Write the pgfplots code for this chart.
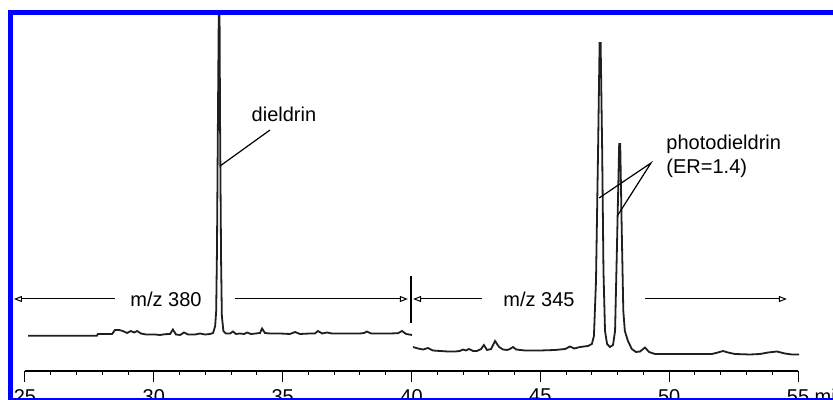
\documentclass[border=0pt]{standalone}
\usepackage{pgfplots}
\pgfplotsset{compat=1.18}
\usepackage{fontspec}
\setmainfont{Liberation Sans}
\usetikzlibrary{arrows.meta}
\begin{document}
\begin{tikzpicture}
\path[use as bounding box] (0,0) rectangle (416.5pt,200pt);
\clip (0,0) rectangle (416.5pt,200pt);
\begin{axis}[
  at={(12.5pt,14.5pt)}, anchor=south west,
  scale only axis, width=386.5pt, height=185.5pt,
  xmin=25, xmax=55, ymin=0, ymax=371,
  clip=false,
  axis x line=bottom, hide y axis,
  axis line style={line width=0.75pt, -},
  xtick={25,30,35,40,45,50,55},
  xticklabels={25,30,35,40,45,50,{55\rlap{ min}}},
  minor x tick num=4,
  tick align=outside,
  major tick length=5.5pt, minor tick length=2pt,
  tick style={black, line width=0.5pt},
  xticklabel style={font=\fontsize{10}{12}\selectfont},
  every node/.append style={font=\fontsize{10}{12}\selectfont},
]
% m/z 380 window
\addplot[black!88, line width=0.9pt] coordinates {
(25.12,35.3) (27.79,35.3) (27.83,37) (28.38,37) (28.49,41) (28.65,41) (28.80,40)
(28.96,38) (29.11,40) (29.23,38.5) (29.35,40) (29.50,37.5) (29.70,36.5) (30.05,36.5)
(30.24,36) (30.43,36.8) (30.63,37) (30.74,41.5) (30.86,36.5) (31.02,36) (31.17,38.5)
(31.33,36.5) (31.60,36.5) (31.79,37.5) (31.99,36.5) (32.18,37) (32.30,38) (32.38,45)
(32.42,60) (32.45,120) (32.49,260) (32.52,357) (32.55,357) (32.57,250) (32.61,110)
(32.64,55) (32.70,40) (32.80,37.5) (32.96,37.5) (33.07,39.5) (33.19,37) (33.34,37.5)
(33.50,37) (33.62,38.5) (33.77,37) (33.96,37.5) (34.12,38) (34.20,42.5) (34.31,38)
(34.51,37.5) (34.90,37.5) (35.28,37) (35.48,39) (35.67,37) (36.06,37.5) (36.25,37.5)
(36.37,40) (36.53,37.5) (36.72,38.5) (36.91,37.5) (37.42,37.5) (38.00,37.5) (38.16,38)
(38.27,39.5) (38.43,37.5) (39.17,37.5) (39.48,37.8) (39.63,40) (39.79,37) (40.02,36)
};
% m/z 345 window
\addplot[black!88, line width=0.9pt] coordinates {
(40.06,24) (40.25,22.5) (40.45,21.5) (40.64,23) (40.83,20.5) (41.11,20) (41.42,19.5)
(41.69,19.5) (41.88,20) (42.00,21.5) (42.11,20.5) (42.23,22) (42.39,20) (42.54,20)
(42.70,22) (42.81,26) (42.93,21) (43.09,22) (43.24,30) (43.40,24) (43.55,21.5)
(43.71,21) (43.82,22) (43.94,24) (44.06,21.5) (44.40,20.5) (44.99,20.5) (45.57,21)
(45.96,22) (46.15,24.5) (46.31,22.5) (46.54,24) (46.85,25) (47.00,27) (47.08,35)
(47.16,90) (47.24,220) (47.30,328) (47.34,328) (47.40,220) (47.45,100) (47.51,40)
(47.59,27) (47.70,24) (47.82,26) (47.90,40) (47.97,120) (48.06,227) (48.10,227)
(48.16,140) (48.22,60) (48.28,40) (48.40,30) (48.55,22) (48.71,19) (48.87,19.5)
(49.06,23.5) (49.22,19) (49.45,17) (50.42,17) (51.20,17) (51.66,17) (51.89,18.5)
(52.09,20) (52.28,18.5) (52.55,17) (53.14,16.5) (53.52,17) (53.84,18.5) (54.18,19.5)
(54.49,17.5) (54.77,16.5) (55.04,16.5)
};
% annotations
\node at (axis cs:35.05,257) {dieldrin};
\draw[line width=0.6pt] (axis cs:34.51,241) -- (axis cs:32.57,205);
\node[anchor=west, align=left, inner sep=0pt] at (axis cs:49.88,215) {photodieldrin\\(ER=1.4)};
\draw[line width=0.6pt] (axis cs:47.28,173) -- (axis cs:49.295,208) -- (axis cs:48.01,156);
% m/z windows
\tikzset{winarr/.style={line width=0.5pt, -{Triangle[open, length=4pt, width=3pt]}}}
\draw[winarr] (axis cs:28.49,72) -- (axis cs:24.57,72);
\node at (axis cs:30.47,72) {m/z 380};
\draw[winarr] (axis cs:33.15,72) -- (axis cs:39.86,72);
\draw[line width=0.6pt] (axis cs:39.98,95) -- (axis cs:39.98,48);
\draw[winarr] (axis cs:42.74,72) -- (axis cs:40.06,72);
\node at (axis cs:44.95,72) {m/z 345};
\draw[winarr] (axis cs:49.06,72) -- (axis cs:54.57,72);
\end{axis}
% blue frame of the figure
\draw[blue, line width=2.5pt] (5.25pt,0) -- (5.25pt,193.75pt) -- (417pt,193.75pt);
\draw[blue, line width=0.8pt] (4pt,0.4pt) -- (417pt,0.4pt);
\end{tikzpicture}
\end{document}
